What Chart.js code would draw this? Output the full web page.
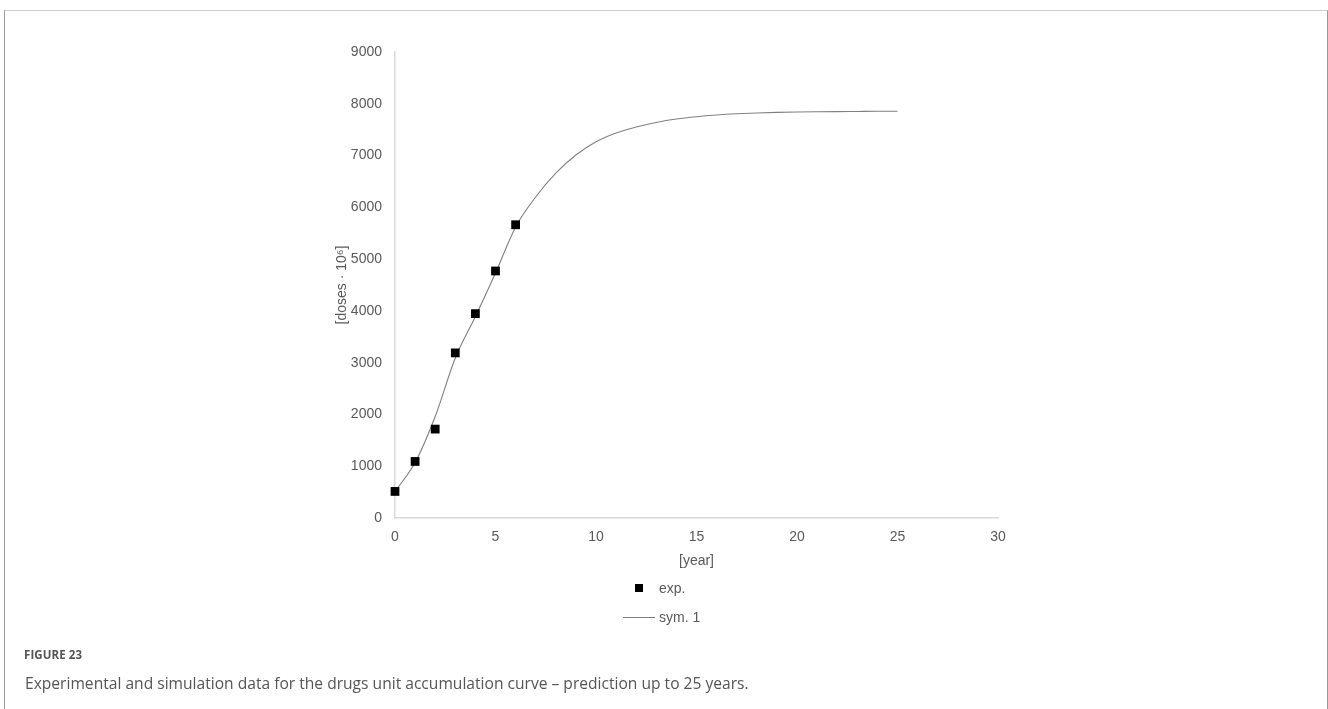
<!DOCTYPE html>
<html><head><meta charset="utf-8">
<script src="https://cdn.jsdelivr.net/npm/chart.js@4.4.1/dist/chart.umd.min.js"></script>
<style>
html,body{margin:0;padding:0;background:#fff;width:1328px;height:709px;overflow:hidden;position:relative;}
#frame{position:absolute;left:4px;top:10px;width:1324px;height:720px;border-top:1px solid #cdcdcd;border-left:1px solid #9a9a9a;border-right:1px solid #9a9a9a;box-sizing:border-box;}
#wrap{position:absolute;left:0;top:0;width:1328px;height:580px;}
#legend{position:absolute;left:0;top:0;width:1328px;height:709px;pointer-events:none;font-family:"Liberation Sans",Arial,sans-serif;font-size:14px;color:#595959;}
.li{position:absolute;left:659px;line-height:16px;}
.mk{position:absolute;}
#figlabel{position:absolute;left:24px;top:647px;font-family:"Open Sans",sans-serif;font-size:11.5px;font-weight:700;color:#555;letter-spacing:0.1px;}
#caption{position:absolute;left:25px;top:672px;font-family:"Open Sans",sans-serif;font-size:15.6px;color:#555;}
</style></head>
<body>
<div id="frame"></div>
<div id="wrap"><canvas id="c" width="1328" height="580"></canvas></div>
<div id="legend"></div>
<div id="figlabel">FIGURE 23</div>
<div id="caption">Experimental and simulation data for the drugs unit accumulation curve – prediction up to 25 years.</div>
<script>
const expYears = [0, 1, 2, 3, 4, 5, 6];
const expValues = [513, 1092, 1717, 3189, 3947, 4771, 5664];
const simYears = [0,1,2,3,4,5,6,7,8,9,10,11,12,13,14,15,16,17,18,19,20,21,22,23,24,25];
const simValues = [513,1070,1960,3090,3890,4730,5620,6200,6660,7010,7265,7435,7552,7640,7705,7750,7783,7806,7822,7833,7840,7845,7849,7852,7855,7857];
const xTicks = [0,5,10,15,20,25,30];
const yTicks = [0,1000,2000,3000,4000,5000,6000,7000,8000,9000];
const seriesNames = ['exp.', 'sym. 1'];
const xTitle = '[year]';
const yTitle = '[doses · 10⁶]';

const tickFont = {family: '"Liberation Sans", Arial, sans-serif', size: 14};
const tickColor = '#595959';

const chart = new Chart(document.getElementById('c'), {
  type: 'scatter',
  data: {
    datasets: [
      {
        label: seriesNames[0],
        data: expYears.map((x, i) => ({x, y: expValues[i]})),
        pointStyle: 'rect',
        pointRadius: 6.2,
        pointHoverRadius: 6.2,
        backgroundColor: '#000',
        borderColor: '#000',
        borderWidth: 0,
        showLine: false,
        clip: false
      },
      {
        label: seriesNames[1],
        data: simYears.map((x, i) => ({x, y: simValues[i]})),
        showLine: true,
        borderColor: '#808080',
        borderWidth: 1.1,
        pointRadius: 0,
        cubicInterpolationMode: 'monotone',
        fill: false,
        clip: false
      }
    ]
  },
  options: {
    responsive: false,
    animation: false,
    devicePixelRatio: 1,
    layout: {padding: {left: 334, right: 330, top: 52, bottom: 10}},
    plugins: {legend: {display: false}, tooltip: {enabled: false}},
    scales: {
      x: {
        type: 'linear', min: 0, max: 30,
        afterBuildTicks: s => { s.ticks = xTicks.map(v => ({value: v})); },
        afterFit: s => { s.height = 52; },
        grid: {display: false, drawTicks: false},
        border: {display: true, color: '#d9d9d9', width: 1.5},
        ticks: {font: tickFont, color: tickColor, padding: 11, maxRotation: 0, callback: v => String(v)},
        title: {display: true, text: xTitle, font: tickFont, color: tickColor, padding: 0}
      },
      y: {
        type: 'linear', min: 0, max: 9000,
        afterBuildTicks: s => { s.ticks = yTicks.map(v => ({value: v})); },
        afterFit: s => { s.width = 61; },
        grid: {display: false, drawTicks: false},
        border: {display: true, color: '#d9d9d9', width: 1.5},
        ticks: {font: tickFont, color: tickColor, padding: 13, callback: v => String(v)},
        title: {display: true, text: yTitle, font: tickFont, color: tickColor, padding: 0}
      }
    }
  }
});

// HTML legend built from the chart datasets
const leg = document.getElementById('legend');
const rowsY = [588, 617];
chart.data.datasets.forEach((ds, i) => {
  const y = rowsY[i];
  const mk = document.createElement('div');
  mk.className = 'mk';
  if (i === 0) {
    mk.style.cssText = 'left:635px;top:' + (y - 4) + 'px;width:8px;height:8px;background:#000;';
  } else {
    mk.style.cssText = 'left:623px;top:' + y + 'px;width:32px;height:1px;background:#808080;';
  }
  leg.appendChild(mk);
  const t = document.createElement('div');
  t.className = 'li';
  t.style.top = (y - 8) + 'px';
  t.textContent = ds.label;
  leg.appendChild(t);
});
</script>
</body></html>
